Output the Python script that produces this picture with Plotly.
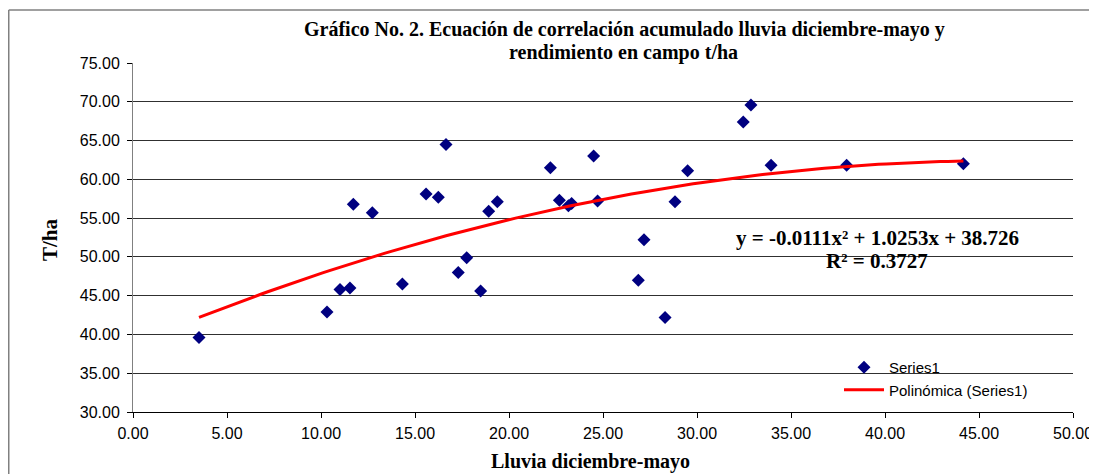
import numpy as np
import plotly.graph_objects as go

# Data
lluvia = [3.51, 10.32, 11.01, 11.54, 11.72, 12.73, 14.33, 15.59, 16.24, 16.65,
          17.30, 17.75, 18.49, 18.92, 19.38, 22.20, 22.68, 23.16, 23.33, 24.50,
          24.71, 26.88, 27.18, 28.30, 28.83, 29.50, 32.46, 32.87, 33.94, 37.96, 44.17]
rendimiento = [39.6, 42.9, 45.8, 46.0, 56.8, 55.7, 46.5, 58.1, 57.7, 64.5,
               48.0, 49.9, 45.6, 55.9, 57.1, 61.5, 57.3, 56.6, 56.9, 63.0,
               57.2, 47.0, 52.2, 42.2, 57.1, 61.1, 67.4, 69.6, 61.8, 61.8, 62.0]
# Trendline coefficients shown on the chart (a, b, c for a*x^2 + b*x + c)
poly_coef = [-0.0111, 1.0253, 38.726]
x_ticks = [0, 5, 10, 15, 20, 25, 30, 35, 40, 45, 50]
y_ticks = [30, 35, 40, 45, 50, 55, 60, 65, 70, 75]

title_lines = ["Gráfico No. 2. Ecuación de correlación acumulado lluvia diciembre-mayo y",
               "rendimiento en campo t/ha"]
eq_lines = ["y = -0.0111x² + 1.0253x + 38.726", "R² = 0.3727"]

xt = np.linspace(min(lluvia), max(lluvia), 100)
yt = np.polyval(poly_coef, xt)

# page is offset by 8px (body margin); work in page coordinates
OFF = 8
W, H = 1097 - OFF, 474 - OFF
PX0, PX1, PY0, PY1 = 133, 1073, 63, 412   # plot area in page pixels
L, R, T, B = PX0 - OFF, W - (PX1 - OFF), PY0 - OFF, H - (PY1 - OFF)
pw, ph = PX1 - PX0, PY1 - PY0

def px(x):
    return (x - PX0) / pw

def py(y):
    return (PY1 - y) / ph

serif = "Liberation Serif"
sans = "Liberation Sans"

fig = go.Figure()
fig.add_trace(go.Scatter(
    x=lluvia, y=rendimiento, mode="markers", name="Series1",
    marker=dict(symbol="diamond", size=10, color="#000080"),
))
fig.add_trace(go.Scatter(
    x=xt, y=yt, mode="lines", name="Polinómica (Series1)",
    line=dict(color="#FF0000", width=3),
))

def ann(text, x, y, size, xanchor="center", angle=0, family=serif, bold=True):
    return dict(text=f"<b>{text}</b>" if bold else text, xref="paper", yref="paper",
                x=px(x), y=py(y), xanchor=xanchor, yanchor="middle",
                showarrow=False, textangle=angle,
                font=dict(family=family, size=size, color="#000"))

border = dict(color="#808080", width=1.5)

fig.update_layout(
    width=W, height=H,
    margin=dict(l=L, r=R, t=T, b=B, autoexpand=False),
    paper_bgcolor="white", plot_bgcolor="white",
    showlegend=True,
    legend=dict(x=px(839), y=py(351), xanchor="left", yanchor="top",
                bgcolor="rgba(0,0,0,0)", font=dict(family=sans, size=15, color="#000"),
                itemwidth=40, tracegroupgap=2),
    xaxis=dict(
        range=[0, 50], tickvals=x_ticks, tickformat=".2f",
        showgrid=False, zeroline=False,
        showline=True, linecolor="#000", linewidth=1,
        ticks="outside", ticklen=5, tickcolor="#000",
        ticklabelstandoff=2,
        tickfont=dict(family=sans, size=16, color="#000"),
    ),
    yaxis=dict(
        range=[30, 75], tickvals=y_ticks, tickformat=".2f",
        showgrid=True, gridcolor="#303030", gridwidth=1,
        zeroline=False,
        showline=True, linecolor="#808080", linewidth=1,
        ticks="outside", ticklen=5, tickcolor="#000",
        ticklabelstandoff=4,
        tickfont=dict(family=sans, size=16, color="#000"),
    ),
    shapes=[
        dict(type="line", xref="paper", yref="paper",
             x0=px(OFF + 0.75), x1=px(1097), y0=py(10), y1=py(10), line=border),
        dict(type="line", xref="paper", yref="paper",
             x0=px(OFF + 0.75), x1=px(OFF + 0.75), y0=py(10), y1=py(474), line=border),
    ],
    annotations=[
        ann(title_lines[0], 624, 30, 20),
        ann(title_lines[1], 623, 52, 20),
        ann(eq_lines[0], 877, 238, 21),
        ann(eq_lines[1], 877, 261, 21),
        ann("Lluvia diciembre-mayo", 590, 461, 20),
        ann("T/ha", 50, 240, 21, angle=-90),
    ],
)

fig.write_html("out.html")
